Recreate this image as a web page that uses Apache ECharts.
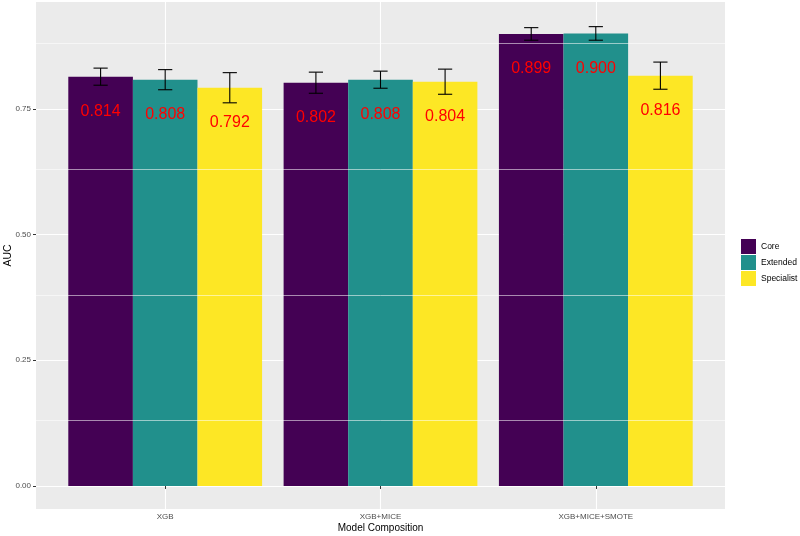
<!DOCTYPE html>
<html>
<head>
<meta charset="utf-8">
<script src="https://cdn.jsdelivr.net/npm/echarts@6/dist/echarts.min.js"></script>
<style>html,body{margin:0;padding:0;background:#fff;}#c{width:800px;height:536px;}</style>
</head>
<body>
<div id="c"></div>
<script>
const categories = ['XGB', 'XGB+MICE', 'XGB+MICE+SMOTE'];
const groups = ['Core', 'Extended', 'Specialist'];
const coreAUC = [0.814, 0.802, 0.899];
const coreErr = [0.017, 0.021, 0.0125];
const extendedAUC = [0.808, 0.808, 0.900];
const extendedErr = [0.020, 0.017, 0.0135];
const specialistAUC = [0.792, 0.804, 0.816];
const specialistErr = [0.030, 0.025, 0.027];
const yTicks = [0, 0.25, 0.5, 0.75];
const yMinor = [0.125, 0.375, 0.625, 0.875];

const colors = ['#440154', '#21908C', '#FDE725'];
const values = [coreAUC, extendedAUC, specialistAUC];
const errs = [coreErr, extendedErr, specialistErr];
const offsets = [-0.3, 0, 0.3];
const FONT = 'Liberation Sans, Arial, Helvetica, sans-serif';

function makeRender(si) {
  return function (params, api) {
    const xc = api.value(0);
    const v = api.value(1);
    const e = api.value(2);
    const x = xc + offsets[si];
    const tl = api.coord([x - 0.15, v]);
    const br = api.coord([x + 0.15, 0]);
    const c = api.coord([x, v]);
    const eTop = api.coord([x, v + e]);
    const eBot = api.coord([x, v - e]);
    const capL = api.coord([x - 0.033, v])[0];
    const capR = api.coord([x + 0.033, v])[0];
    const ls = { stroke: '#000', lineWidth: 1.1 };
    return {
      type: 'group',
      children: [
        { type: 'rect', shape: { x: tl[0], y: tl[1], width: br[0] - tl[0], height: br[1] - tl[1] }, style: { fill: colors[si] } },
        { type: 'line', shape: { x1: c[0], y1: eTop[1], x2: c[0], y2: eBot[1] }, style: ls },
        { type: 'line', shape: { x1: capL, y1: eTop[1], x2: capR, y2: eTop[1] }, style: ls },
        { type: 'line', shape: { x1: capL, y1: eBot[1], x2: capR, y2: eBot[1] }, style: ls },
        { type: 'text', style: { text: v.toFixed(3), x: c[0], y: c[1] + 35, fill: '#FF0000', font: '16px ' + FONT, align: 'center', verticalAlign: 'middle' } }
      ]
    };
  };
}

const series = groups.map((g, si) => ({
  name: g,
  type: 'custom',
  renderItem: makeRender(si),
  itemStyle: { color: colors[si] },
  encode: { x: 0, y: 1 },
  data: categories.map((cat, i) => [i + 1, values[si][i], errs[si][i]]),
  z: 3
}));
series[0].markLine = {
  silent: true,
  symbol: 'none',
  label: { show: false },
  lineStyle: { color: '#FFFFFF', width: 0.55, type: 'solid' },
  emphasis: { disabled: true },
  data: yMinor.map(v => ({ yAxis: v }))
};

const option = {
  animation: false,
  backgroundColor: '#FFFFFF',
  grid: { left: 36, top: 2, width: 689, height: 507, show: true, backgroundColor: '#EBEBEB', borderWidth: 0, containLabel: false, outerBoundsMode: 'none' },
  xAxis: {
    type: 'value', min: 0.4, max: 3.6,
    name: 'Model Composition', nameLocation: 'middle', nameGap: 14, nameMoveOverlap: false,
    nameTextStyle: { fontFamily: FONT, fontSize: 10, color: '#000', verticalAlign: 'top' },
    axisLine: { show: false },
    axisTick: { show: true, length: 3, customValues: [1, 2, 3], lineStyle: { color: '#333333', width: 1 } },
    axisLabel: { customValues: [1, 2, 3], formatter: v => categories[Math.round(v) - 1], fontFamily: FONT, fontSize: 8, color: '#4D4D4D', margin: 4 },
    splitLine: { show: true, lineStyle: { color: '#FFFFFF', width: 1.1 } }
  },
  yAxis: {
    type: 'value', min: -0.0458, max: 0.9625,
    name: 'AUC', nameLocation: 'middle', nameGap: 22, nameRotate: 90, nameMoveOverlap: false,
    nameTextStyle: { fontFamily: FONT, fontSize: 10.5, color: '#000' },
    axisLine: { show: false },
    axisTick: { show: true, length: 3, customValues: yTicks, lineStyle: { color: '#333333', width: 1 } },
    axisLabel: { customValues: yTicks, formatter: v => v.toFixed(2), fontFamily: FONT, fontSize: 8, color: '#4D4D4D', margin: 5 },
    splitLine: { show: true, lineStyle: { color: '#FFFFFF', width: 1.1 } }
  },
  legend: {
    orient: 'vertical', left: 741, top: 239, padding: 0,
    itemWidth: 15, itemHeight: 15, itemGap: 1,
    icon: 'rect',
    textStyle: { fontFamily: FONT, fontSize: 8.5, color: '#000' },
    data: groups
  },
  series: series
};

const chart = echarts.init(document.getElementById('c'), null, { renderer: 'canvas' });
chart.setOption(option);
</script>
</body>
</html>
